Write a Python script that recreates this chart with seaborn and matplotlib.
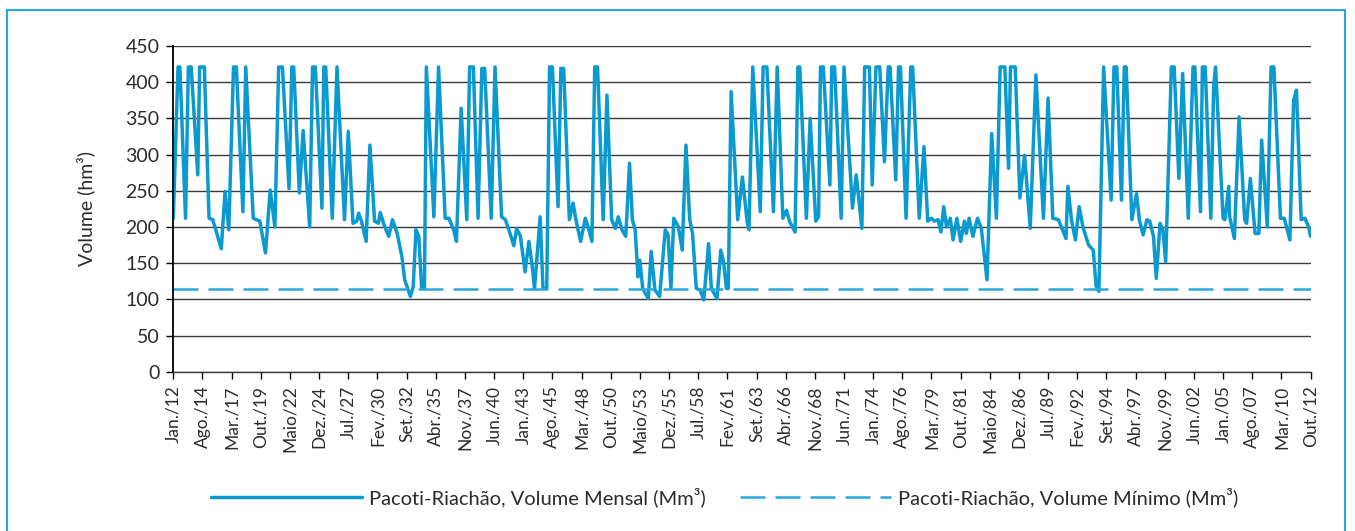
import matplotlib
matplotlib.use("Agg")
import matplotlib.pyplot as plt
import seaborn as sns
import pandas as pd
from matplotlib.patches import Rectangle

# ---- data: months counted from Jan/1912 (0) to Oct/2012 (1209) ----
months = [0, 5, 7, 13, 16, 19, 26, 28, 33, 38, 42, 51, 55, 59, 64, 67, 74, 77, 85, 92,
          98, 103, 108, 112, 116, 123, 126, 128, 134, 138, 145, 148, 151,
          158, 160, 162, 169, 174, 182, 186, 191, 195, 197, 200, 205, 209, 214, 218, 220,
          224, 229, 233, 238, 243, 246, 252, 255, 258, 261, 264, 267, 269, 277, 282, 289,
          293, 298, 301,
          306, 312, 315, 319, 324, 328, 331, 338, 342, 349, 353, 358, 362, 365, 369, 374,
          378, 382, 384, 390, 393, 397, 400, 403, 409, 412, 415, 421, 425, 428, 433, 438,
          441, 445, 448, 451, 457,
          461, 466, 470, 473, 477, 481, 485, 488, 491, 494, 496, 499, 505, 508, 512, 517,
          523, 526, 529, 532, 537, 541, 545, 549, 552, 556, 560, 564, 569, 572, 578, 582,
          585, 588, 590, 593, 600, 605, 610, 612,
          616, 624, 627, 631, 638, 642, 648, 652, 655, 661, 664, 666, 673, 677, 683, 686,
          688, 691, 698, 700, 703, 710, 713, 722, 726, 732, 735, 740, 743, 747, 751, 756,
          760, 762,
          768, 771, 773, 779, 784, 786, 793, 798, 802, 806, 809, 813, 816, 819, 822, 826,
          829, 833, 837, 841, 843, 846, 850, 855, 859, 865, 870, 875, 879, 884, 888, 890,
          895, 900, 905, 911, 917,
          925, 930, 935, 941, 944, 949, 951, 955, 959, 963, 967, 973, 978, 981, 984, 989,
          997, 1000, 1003, 1008, 1011, 1013, 1019, 1024, 1027, 1031, 1035, 1038, 1042,
          1045, 1049, 1052, 1055, 1061, 1064, 1069, 1073,
          1079, 1084, 1086, 1092, 1094, 1097, 1103, 1106, 1108, 1116, 1118, 1122, 1123,
          1128, 1133, 1139, 1141, 1145, 1150, 1154, 1157, 1163, 1167, 1170, 1177, 1181,
          1187, 1191, 1194, 1199, 1203, 1207, 1209]
volume = [212, 421, 421, 212, 421, 421, 272, 421, 421, 212, 210, 170, 249, 196, 421, 421, 221, 421, 212, 208,
          164, 251, 200, 421, 421, 253, 421, 421, 247, 333, 200, 421, 421,
          226, 421, 421, 212, 421, 210, 332, 205, 208, 219, 208, 180, 313, 208, 205, 220,
          203, 187, 210, 191, 159, 127, 104, 117, 196, 187, 115, 115, 421, 214, 421, 212,
          212, 196, 180,
          364, 210, 421, 421, 212, 419, 419, 212, 421, 214, 210, 191, 174, 198, 187, 138,
          180, 141, 115, 214, 115, 115, 421, 421, 228, 419, 419, 210, 233, 210, 180, 212,
          200, 180, 421, 421, 210,
          382, 210, 198, 214, 196, 187, 288, 210, 196, 131, 154, 115, 101, 166, 113, 104,
          196, 189, 115, 212, 200, 168, 313, 210, 191, 115, 113, 99, 177, 115, 101, 168,
          152, 115, 115, 387, 210, 269, 208, 196,
          421, 221, 421, 421, 221, 421, 212, 223, 208, 193, 421, 421, 212, 350, 208, 214,
          421, 421, 258, 421, 421, 212, 421, 226, 272, 198, 421, 421, 258, 421, 421, 290,
          421, 421,
          265, 421, 421, 212, 421, 421, 212, 311, 208, 212, 208, 210, 193, 228, 200, 212,
          182, 212, 180, 208, 191, 212, 187, 212, 198, 127, 329, 212, 421, 421, 281, 421,
          421, 240, 299, 198, 410,
          212, 378, 212, 210, 200, 184, 256, 208, 182, 228, 200, 175, 168, 118, 111, 421,
          237, 421, 421, 237, 421, 421, 210, 246, 210, 189, 210, 208, 187,
          129, 205, 196, 152, 421, 421, 267, 412,
          212, 421, 421, 221, 421, 421, 212, 395, 421, 212, 210, 256, 214,
          184, 352, 210, 205, 267, 191, 191, 320, 200, 421, 421, 212, 212,
          182, 375, 389, 210, 212, 200, 187]
min_months = [0, 1209]
min_volume = [114, 114]

tick_months = list(range(0, 1210, 31))
tick_labels = ["Jan./12", "Ago./14", "Mar./17", "Out./19", "Maio/22", "Dez./24", "Jul./27",
               "Fev./30", "Set./32", "Abr./35", "Nov./37", "Jun./40", "Jan./43", "Ago./45",
               "Mar./48", "Out./50", "Maio/53", "Dez./55", "Jul./58", "Fev./61", "Set./63",
               "Abr./66", "Nov./68", "Jun./71", "Jan./74", "Ago./76", "Mar./79", "Out./81",
               "Maio/84", "Dez./86", "Jul./89", "Fev./92", "Set./94", "Abr./97", "Nov./99",
               "Jun./02", "Jan./05", "Ago./07", "Mar./10", "Out./12"]
y_ticks = [0, 50, 100, 150, 200, 250, 300, 350, 400, 450]

label_main = "Pacoti-Riachão, Volume Mensal (Mm³)"
label_min = "Pacoti-Riachão, Volume Mínimo (Mm³)"
y_label = "Volume (hm³)"

# ---- style ----
sns.set_theme(style="white")
plt.rcParams["font.family"] = ["Lato", "DejaVu Sans"]
plt.rcParams["font.weight"] = "normal"

BLUE = "#0A9AD0"
BLUE_LIGHT = "#2AA8DC"
TXT = "#2b2b2b"

fig = plt.figure(figsize=(13.55, 5.31), dpi=100)
ax = fig.add_axes([0.1279, 0.300, 0.8393, 0.6134])

df_main = pd.DataFrame({"month": months, "volume": volume})
df_min = pd.DataFrame({"month": min_months, "volume": min_volume})

sns.lineplot(data=df_main, x="month", y="volume", ax=ax, color=BLUE, lw=2.5,
             estimator=None, sort=False, label=label_main)
sns.lineplot(data=df_min, x="month", y="volume", ax=ax, color=BLUE_LIGHT, lw=1.8,
             estimator=None, sort=False, label=label_min, dashes=False)
ax.lines[0].set_solid_joinstyle("round")
ax.lines[0].set_solid_capstyle("round")
ax.lines[1].set_dashes([10, 4])

ax.set_xlim(0, 1209)
ax.set_ylim(0, 450)
ax.set_yticks(y_ticks)
ax.set_xticks(tick_months)
ax.set_xticklabels(tick_labels, rotation=90, fontsize=12.5, color=TXT, fontweight="normal")
ax.set_yticklabels([str(v) for v in y_ticks], fontsize=14, color=TXT, fontweight="normal")
ax.set_xlabel("")
ax.set_ylabel(y_label, fontsize=14, color=TXT, labelpad=22, fontweight="normal")

ax.grid(axis="y", color="#3a3a3a", lw=1.0)
ax.grid(axis="x", visible=False)
ax.set_axisbelow(True)
for s in ["top", "right"]:
    ax.spines[s].set_visible(False)
ax.spines["left"].set_color("black")
ax.spines["left"].set_linewidth(1.3)
ax.spines["bottom"].set_color("#3a3a3a")
ax.spines["bottom"].set_linewidth(1.0)
ax.tick_params(axis="both", direction="out", length=5, width=1.0, color="black", pad=5,
               bottom=True, left=True)

ax.get_legend().remove()
handles, labels = ax.get_legend_handles_labels()
leg = fig.legend(handles, labels, loc="center", bbox_to_anchor=(0.535, 0.064), ncol=2,
                 frameon=False, fontsize=14.5, handlelength=7.5, handletextpad=0.35,
                 columnspacing=1.7)
for t in leg.get_texts():
    t.set_color(TXT)
    t.set_fontweight("normal")

fig.patches.append(Rectangle((7.5 / 1355, -0.05), (1345 - 7.5) / 1355, 1.05 - 10 / 531,
                             transform=fig.transFigure, fill=False, edgecolor="#29A8DF",
                             lw=1.5))

fig.savefig("out.png", dpi=100)
